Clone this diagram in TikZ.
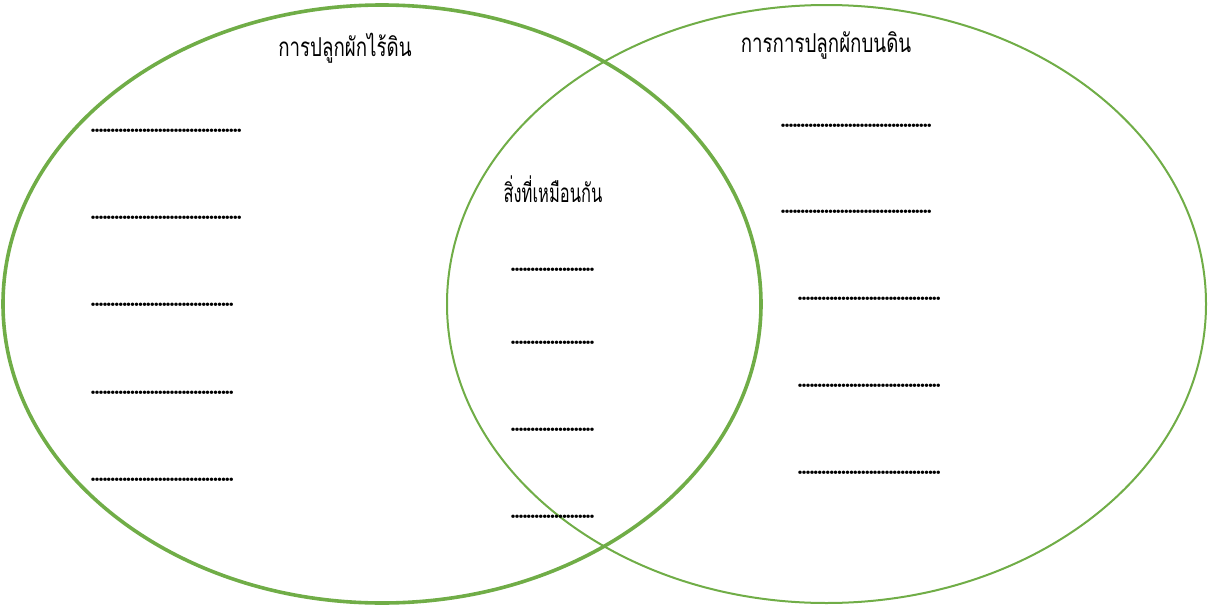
\documentclass[tikz,border=0pt]{standalone}
\usepackage{fontspec}
\newfontfamily\thaifont[Script=Thai,FakeStretch=0.72]{Loma}
\definecolor{leafgreen}{RGB}{112,173,71}
\newcommand\dotrow[1]{\foreach \i in {1,...,#1}{\makebox[3.95pt]{.}}}
\begin{document}
\begin{tikzpicture}[
  x=1pt, y=-1pt,
  ring/.style={draw=leafgreen},
  title/.style={font=\thaifont\fontsize{26}{30}\selectfont, inner sep=0pt},
  dotline/.style={font=\bfseries\fontsize{24}{26}\selectfont, inner sep=0pt, anchor=base west}
]
\useasboundingbox (0,0) rectangle (1208,608);

% two circles
\draw[ring, line width=2pt] (826.5,304) ellipse [x radius=379.5, y radius=299];
\draw[ring, line width=3.6pt] (382,304) ellipse [x radius=379, y radius=299];

% headings
\node[title] (soilless) at (345,48) {การปลูกผักไร้ดิน};
\node[title] (insoil) at (826,45) {การการปลูกผักบนดิน};
\node[title, xscale=0.88] (common) at (553,189) {สิ่งที่เหมือนกัน};

% left side
\node[dotline] (left1) at (91,132) {\dotrow{38}};
\node[dotline] (left2) at (91,219) {\dotrow{38}};
\node[dotline] (left3) at (91,306) {\dotrow{36}};
\node[dotline] (left4) at (91,394) {\dotrow{36}};
\node[dotline] (left5) at (91,481) {\dotrow{36}};

% middle
\node[dotline] (mid1) at (511,271) {\dotrow{21}};
\node[dotline] (mid2) at (511,344) {\dotrow{21}};
\node[dotline] (mid3) at (511,431) {\dotrow{21}};
\node[dotline] (mid4) at (511,518) {\dotrow{21}};

% right side
\node[dotline] (right1) at (781,127) {\dotrow{38}};
\node[dotline] (right2) at (781,213) {\dotrow{38}};
\node[dotline] (right3) at (798,300) {\dotrow{36}};
\node[dotline] (right4) at (798,387) {\dotrow{36}};
\node[dotline] (right5) at (798,474) {\dotrow{36}};
\end{tikzpicture}
\end{document}
